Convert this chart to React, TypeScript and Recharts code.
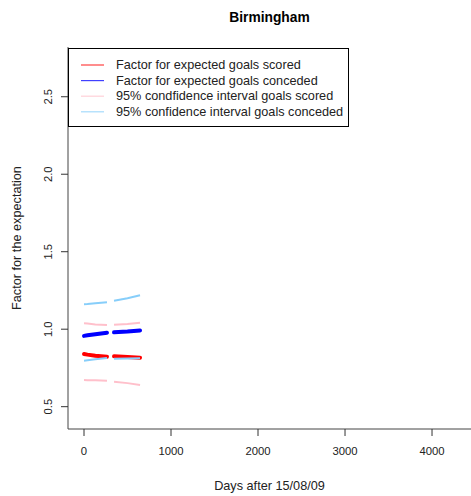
import { LineChart, Line, XAxis, YAxis, Legend } from 'recharts';

// Days after 15/08/09; the null row splits each series into two stretches
const days = [0, 40, 130, 264, 305, 345, 500, 644];
const scoredFactor = [0.84, 0.836, 0.829, 0.823, null, 0.825, 0.821, 0.816];
const concededFactor = [0.957, 0.961, 0.968, 0.977, null, 0.98, 0.985, 0.992];
const scoredUpper = [1.038, 1.036, 1.031, 1.027, null, 1.029, 1.034, 1.042];
const scoredLower = [0.672, 0.671, 0.67, 0.668, null, 0.661, 0.652, 0.64];
const concededUpper = [1.161, 1.162, 1.167, 1.174, null, 1.184, 1.2, 1.219];
const concededLower = [0.797, 0.8, 0.806, 0.814, null, 0.81, 0.811, 0.812];

const xTicks = [0, 1000, 2000, 3000, 4000];
const yTicks = [0.5, 1.0, 1.5, 2.0, 2.5];

const legendLabels = [
  'Factor for expected goals scored',
  'Factor for expected goals conceded',
  '95% condfidence interval goals scored',
  '95% confidence interval goals conceded',
];
const legendColors = ['#ff0000', '#0000ff', '#ffc0cb', '#87cefa'];

const data = days.map((day, i) => ({
  day,
  scored: scoredFactor[i],
  conceded: concededFactor[i],
  scoredUpper: scoredUpper[i],
  scoredLower: scoredLower[i],
  concededUpper: concededUpper[i],
  concededLower: concededLower[i],
}));

const FONT = '"Liberation Sans", Arial, Helvetica, sans-serif';
const INK = '#222';

function YTick({ y, payload }: any) {
  return (
    <text
      x={48}
      y={y}
      transform={`rotate(-90, 48, ${y})`}
      textAnchor="middle"
      dominantBaseline="central"
      fill={INK}
      fontSize={11.3}
      fontFamily={FONT}
    >
      {Number(payload.value).toFixed(1)}
    </text>
  );
}

function LegendBox() {
  return (
    <svg width={281} height={79} style={{ display: 'block' }}>
      <rect x={0.5} y={0.5} width={280} height={78} fill="#fff" stroke="#000" strokeWidth={1} />
      {legendLabels.map((label, i) => {
        const cy = 17 + i * 15.6;
        return (
          <g key={label}>
            <line x1={13} x2={36} y1={cy} y2={cy} stroke={legendColors[i]} strokeWidth={1.2} strokeOpacity={0.75} />
            <text x={48} y={cy} dominantBaseline="central" fontSize={12.7} fontFamily={FONT} fill={INK}>
              {label}
            </text>
          </g>
        );
      })}
    </svg>
  );
}

export default function App() {
  return (
    <div style={{ position: 'absolute', left: 0, top: 0, width: 471, height: 496, background: '#fff', fontFamily: FONT }}>
      <div
        style={{
          position: 'absolute',
          left: 68,
          width: 403,
          top: 9,
          textAlign: 'center',
          fontWeight: 'bold',
          fontSize: 13.8,
          color: '#000',
          lineHeight: '18px',
        }}
      >
        Birmingham
      </div>
      <LineChart width={471} height={496} data={data} margin={{ top: 47, right: 0, bottom: 0, left: 0 }}>
        <XAxis
          dataKey="day"
          type="number"
          domain={[-184, 4448]}
          ticks={xTicks}
          allowDataOverflow
          height={67}
          tickSize={7}
          tickMargin={11}
          axisLine={{ stroke: '#444' }}
          tickLine={{ stroke: '#333' }}
          tick={{ fill: INK, fontSize: 11.3, fontFamily: FONT }}
        />
        <YAxis
          type="number"
          domain={[0.356, 2.821]}
          ticks={yTicks}
          allowDataOverflow
          width={68}
          tickSize={7}
          axisLine={{ stroke: '#444' }}
          tickLine={{ stroke: '#333' }}
          tick={<YTick />}
        />
        <Legend
          layout="vertical"
          align="center"
          verticalAlign="middle"
          wrapperStyle={{ left: 68, top: 48, width: 281, height: 79 }}
          content={() => <LegendBox />}
        />
        <Line dataKey="scored" stroke="#ff0000" strokeWidth={4} strokeLinecap="round" dot={false} isAnimationActive={false} />
        <Line dataKey="conceded" stroke="#0000ff" strokeWidth={4} strokeLinecap="round" dot={false} isAnimationActive={false} />
        <Line dataKey="scoredUpper" stroke="#ffc0cb" strokeWidth={2} dot={false} isAnimationActive={false} />
        <Line dataKey="scoredLower" stroke="#ffc0cb" strokeWidth={2} dot={false} isAnimationActive={false} />
        <Line dataKey="concededUpper" stroke="#87cefa" strokeWidth={2} dot={false} isAnimationActive={false} />
        <Line dataKey="concededLower" stroke="#87cefa" strokeWidth={2} dot={false} isAnimationActive={false} />
      </LineChart>
      <div
        style={{
          position: 'absolute',
          left: 68,
          width: 403,
          top: 477,
          textAlign: 'center',
          fontSize: 12.7,
          color: INK,
          lineHeight: '18px',
        }}
      >
        Days after 15/08/09
      </div>
      <div
        style={{
          position: 'absolute',
          left: 17 - 100,
          top: 238 - 9,
          width: 200,
          textAlign: 'center',
          fontSize: 12.7,
          color: INK,
          lineHeight: '18px',
          transform: 'rotate(-90deg)',
        }}
      >
        Factor for the expectation
      </div>
    </div>
  );
}
